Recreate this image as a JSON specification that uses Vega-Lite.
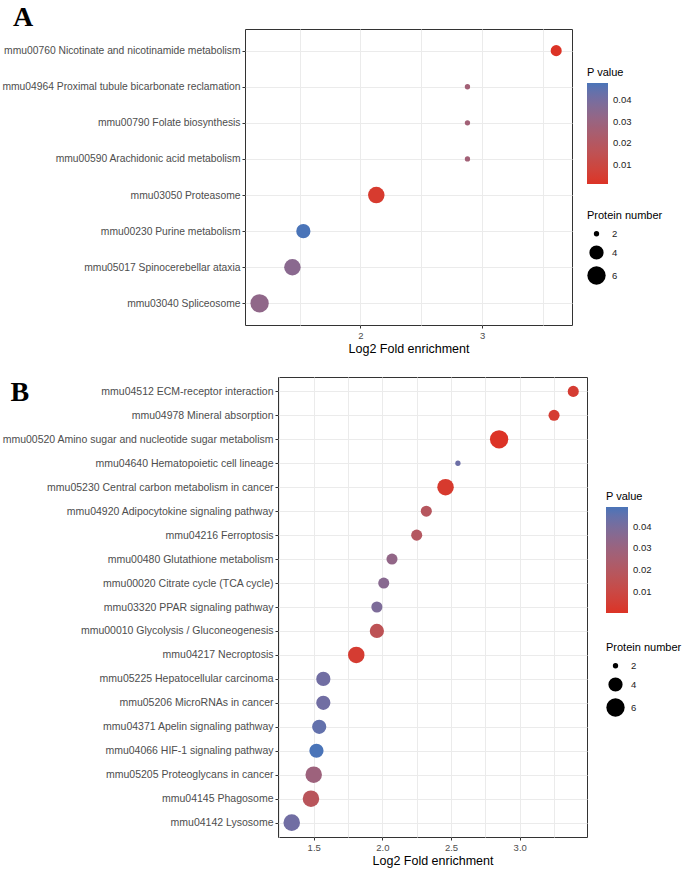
{
  "$schema": "https://vega.github.io/schema/vega-lite/v6.json",
  "padding": {"left": 0, "top": 3, "right": 0, "bottom": 0},
  "background": "white",
  "spacing": 20,
  "config": {
    "font": "Liberation Sans",
    "view": {"stroke": "#333333", "strokeWidth": 1},
    "axis": {
      "domain": false,
      "tickColor": "#333333",
      "tickSize": 3,
      "labelColor": "#4d4d4d",
      "labelFont": "Liberation Sans",
      "titleFont": "Liberation Sans",
      "titleFontWeight": "normal",
      "titleColor": "#000000",
      "gridColor": "#ebebeb",
      "gridWidth": 1,
      "labelPadding": 2,
      "labelLimit": 400
    },
    "legend": {
      "titleFont": "Liberation Sans",
      "labelFont": "Liberation Sans",
      "titleFontWeight": "normal",
      "titleColor": "#000000",
      "labelColor": "#222222",
      "titleFontSize": 11,
      "labelFontSize": 9.5
    }
  },
  "vconcat": [
    {"spacing": 0, "hconcat": [
    {
      "width": 1, "height": 1,
      "view": {"stroke": null},
      "data": {"values": [{"k": 0}]},
      "mark": {"type": "point", "opacity": 0, "size": 0},
      "encoding": {}
    },
    {
      "title": {"text": "A", "anchor": "start", "frame": "bounds", "font": "Liberation Serif", "fontSize": 28, "fontWeight": "bold", "color": "#000000", "dx": 11, "offset": -3},
      "width": 327,
      "height": 296,
      "data": {"values": [
        {"term": "mmu00760 Nicotinate and nicotinamide metabolism", "fold": 3.61, "n": 3, "p": 0.0012},
        {"term": "mmu04964 Proximal tubule bicarbonate reclamation", "fold": 2.88, "n": 2, "p": 0.027},
        {"term": "mmu00790 Folate biosynthesis", "fold": 2.88, "n": 2, "p": 0.027},
        {"term": "mmu00590 Arachidonic acid metabolism", "fold": 2.88, "n": 2, "p": 0.027},
        {"term": "mmu03050 Proteasome", "fold": 2.13, "n": 5, "p": 0.004},
        {"term": "mmu00230 Purine metabolism", "fold": 1.53, "n": 4, "p": 0.048},
        {"term": "mmu05017 Spinocerebellar ataxia", "fold": 1.44, "n": 5, "p": 0.035},
        {"term": "mmu03040 Spliceosome", "fold": 1.17, "n": 6, "p": 0.033}
      ]},
      "layer": [
        {
          "mark": {"type": "point", "opacity": 0},
          "encoding": {
            "x": {"field": "fold", "type": "quantitative", "scale": {"domain": [1.05, 3.74], "nice": false, "zero": false},
                  "axis": {"values": [1.5, 2, 2.5, 3, 3.5], "grid": true, "labels": false, "ticks": false, "title": null, "orient": "bottom"}},
            "y": {"field": "term", "type": "nominal", "sort": null, "scale": {"type": "point", "padding": 0.6},
                  "axis": {"title": null, "labelFontSize": 10.3, "grid": true}}
          }
        },
        {
          "mark": {"type": "circle", "opacity": 1},
          "encoding": {
            "x": {"field": "fold", "type": "quantitative", "scale": {"domain": [1.05, 3.74], "nice": false, "zero": false},
                  "axis": {"values": [2, 3], "grid": false, "title": "Log2 Fold enrichment", "titleFontSize": 12.5, "labelFontSize": 9.5, "titlePadding": 3, "orient": "bottom"}},
            "y": {"field": "term", "type": "nominal", "sort": null, "scale": {"type": "point", "padding": 0.6},
                  "axis": {"title": null, "labelFontSize": 10.3, "grid": true}},
            "color": {"field": "p", "type": "quantitative",
                      "scale": {"range": ["#dc3326", "#4a74b8"], "interpolate": "lab", "zero": false, "nice": false},
                      "legend": {"title": "P value", "orient": "none", "legendX": 587, "legendY": 38, "gradientLength": 101, "gradientThickness": 21, "values": [0.01, 0.02, 0.03, 0.04], "format": ".2f", "titlePadding": 5, "labelOffset": 5, "gradientStrokeWidth": 0}},
            "size": {"field": "n", "type": "quantitative",
                     "scale": {"type": "sqrt", "domain": [2, 6], "range": [28, 336], "zero": false},
                     "legend": {"title": "Protein number", "orient": "none", "legendX": 587, "legendY": 181, "values": [2, 4, 6], "symbolFillColor": "#000000", "symbolStrokeWidth": 0, "symbolType": "circle", "titlePadding": 8, "rowPadding": 6, "labelOffset": 6}}
          }
        }
      ],
      "resolve": {"axis": {"x": "independent"}}
    }
    ]},
    {"spacing": 0, "hconcat": [
    {
      "width": 1, "height": 1,
      "view": {"stroke": null},
      "data": {"values": [{"k": 0}]},
      "mark": {"type": "point", "opacity": 0, "size": 0},
      "encoding": {}
    },
    {
      "title": {"text": "B", "anchor": "start", "frame": "bounds", "font": "Liberation Serif", "fontSize": 28, "fontWeight": "bold", "color": "#000000", "dx": 9, "dy": 22, "offset": -8},
      "width": 309,
      "height": 460,
      "data": {"values": [
        {"term": "mmu04512 ECM-receptor interaction", "fold": 3.39, "n": 3, "p": 0.004},
        {"term": "mmu04978 Mineral absorption", "fold": 3.25, "n": 3, "p": 0.004},
        {"term": "mmu00520 Amino sugar and nucleotide sugar metabolism", "fold": 2.85, "n": 6, "p": 0.0004},
        {"term": "mmu04640 Hematopoietic cell lineage", "fold": 2.55, "n": 2, "p": 0.043},
        {"term": "mmu05230 Central carbon metabolism in cancer", "fold": 2.46, "n": 5, "p": 0.003},
        {"term": "mmu04920 Adipocytokine signaling pathway", "fold": 2.32, "n": 3, "p": 0.019},
        {"term": "mmu04216 Ferroptosis", "fold": 2.25, "n": 3, "p": 0.02},
        {"term": "mmu00480 Glutathione metabolism", "fold": 2.07, "n": 3, "p": 0.033},
        {"term": "mmu00020 Citrate cycle (TCA cycle)", "fold": 2.01, "n": 3, "p": 0.036},
        {"term": "mmu03320 PPAR signaling pathway", "fold": 1.96, "n": 3, "p": 0.039},
        {"term": "mmu00010 Glycolysis / Gluconeogenesis", "fold": 1.96, "n": 4, "p": 0.016},
        {"term": "mmu04217 Necroptosis", "fold": 1.81, "n": 5, "p": 0.004},
        {"term": "mmu05225 Hepatocellular carcinoma", "fold": 1.57, "n": 4, "p": 0.042},
        {"term": "mmu05206 MicroRNAs in cancer", "fold": 1.57, "n": 4, "p": 0.042},
        {"term": "mmu04371 Apelin signaling pathway", "fold": 1.54, "n": 4, "p": 0.045},
        {"term": "mmu04066 HIF-1 signaling pathway", "fold": 1.52, "n": 4, "p": 0.049},
        {"term": "mmu05205 Proteoglycans in cancer", "fold": 1.50, "n": 5, "p": 0.029},
        {"term": "mmu04145 Phagosome", "fold": 1.48, "n": 5, "p": 0.018},
        {"term": "mmu04142 Lysosome", "fold": 1.34, "n": 5, "p": 0.042}
      ]},
      "layer": [
        {
          "mark": {"type": "point", "opacity": 0},
          "encoding": {
            "x": {"field": "fold", "type": "quantitative", "scale": {"domain": [1.24, 3.49], "nice": false, "zero": false},
                  "axis": {"values": [1.25, 1.5, 1.75, 2, 2.25, 2.5, 2.75, 3, 3.25], "grid": true, "labels": false, "ticks": false, "title": null, "orient": "bottom"}},
            "y": {"field": "term", "type": "nominal", "sort": null, "scale": {"type": "point", "padding": 0.6},
                  "axis": {"title": null, "labelFontSize": 10.5, "grid": true}}
          }
        },
        {
          "mark": {"type": "circle", "opacity": 1},
          "encoding": {
            "x": {"field": "fold", "type": "quantitative", "scale": {"domain": [1.24, 3.49], "nice": false, "zero": false},
                  "axis": {"values": [1.5, 2, 2.5, 3], "format": ".1f", "grid": false, "title": "Log2 Fold enrichment", "titleFontSize": 12.5, "labelFontSize": 9.5, "titlePadding": 3, "orient": "bottom"}},
            "y": {"field": "term", "type": "nominal", "sort": null, "scale": {"type": "point", "padding": 0.6},
                  "axis": {"title": null, "labelFontSize": 10.5, "grid": true}},
            "color": {"field": "p", "type": "quantitative",
                      "scale": {"range": ["#dc3326", "#4a74b8"], "interpolate": "lab", "zero": false, "nice": false},
                      "legend": {"title": "P value", "orient": "none", "legendX": 606, "legendY": 114, "gradientLength": 106, "gradientThickness": 22, "values": [0.01, 0.02, 0.03, 0.04], "format": ".2f", "titlePadding": 5, "labelOffset": 5, "gradientStrokeWidth": 0}},
            "size": {"field": "n", "type": "quantitative",
                     "scale": {"type": "sqrt", "domain": [2, 6], "range": [28, 336], "zero": false},
                     "legend": {"title": "Protein number", "orient": "none", "legendX": 606, "legendY": 265, "values": [2, 4, 6], "symbolFillColor": "#000000", "symbolStrokeWidth": 0, "symbolType": "circle", "titlePadding": 8, "rowPadding": 6, "labelOffset": 6}}
          }
        }
      ],
      "resolve": {"axis": {"x": "independent"}}
    }
    ]}
  ],
  "resolve": {"scale": {"color": "independent", "size": "independent"}, "legend": {"color": "independent", "size": "independent"}}
}
